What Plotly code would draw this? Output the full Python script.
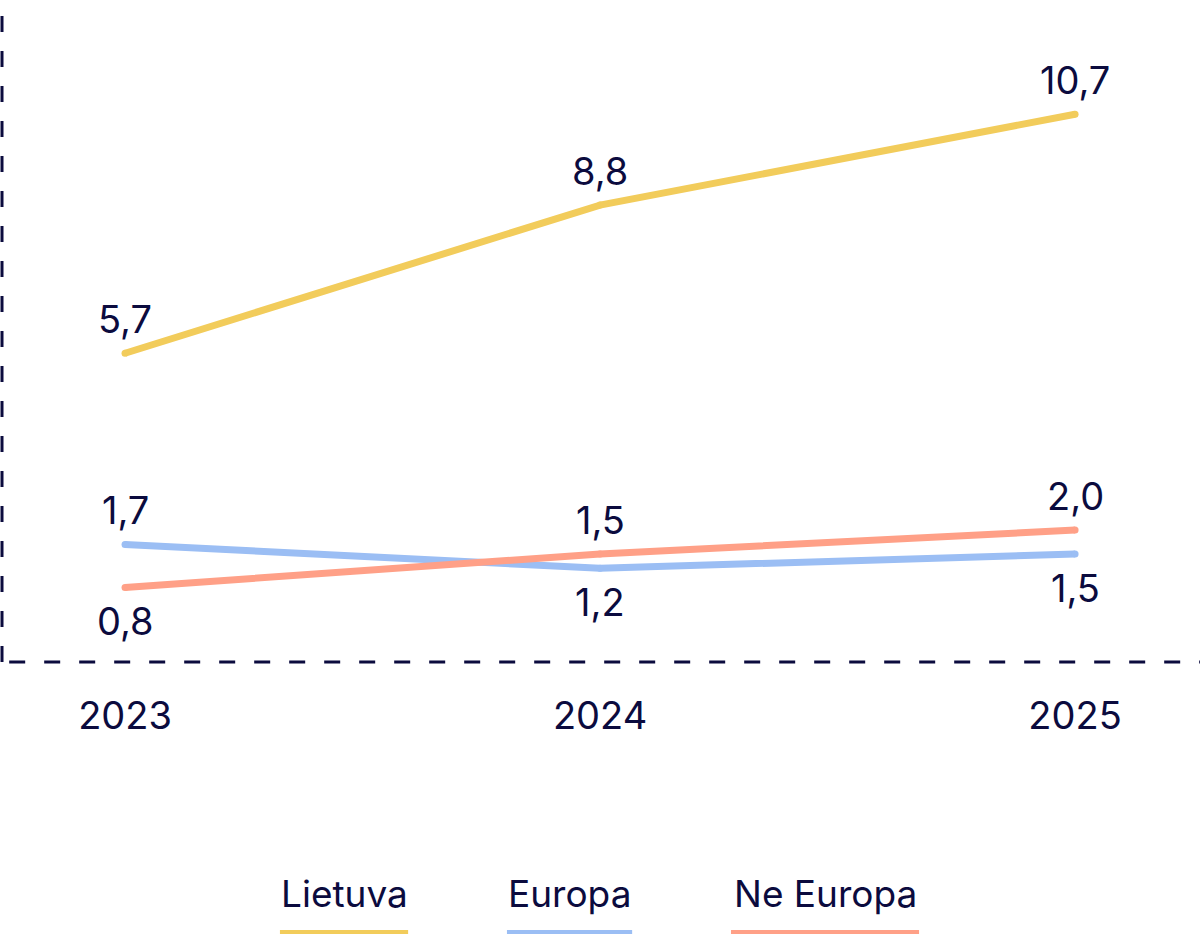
import plotly.graph_objects as go

years = [2023, 2024, 2025]
series_names = ["Lietuva", "Europa", "Ne Europa"]
lietuva = [5.7, 8.8, 10.7]
europa = [1.7, 1.2, 1.5]
ne_europa = [0.8, 1.5, 2.0]
colors = ["#F2CC5B", "#9BBEF4", "#FFA087"]
# which side of the line each value label sits on (1 = above, -1 = below)
label_side = [[1, 1, 1], [1, -1, -1], [-1, 1, 1]]

navy = "#0B0B3E"
font = "Inter"

fig = go.Figure()
all_values = [lietuva, europa, ne_europa]
for name, vals, col, sides in zip(series_names, all_values, colors, label_side):
    fig.add_trace(go.Scatter(
        x=years, y=vals, name=name, mode="lines+markers",
        line=dict(color=col, width=7),
        marker=dict(color=col, size=7),
        showlegend=False, hoverinfo="skip",
    ))
    for x, v, s in zip(years, vals, sides):
        fig.add_annotation(
            x=x, y=v, text=f"{v:.1f}".replace(".", ","), showarrow=False,
            yshift=34 * s, font=dict(family=font, size=38, color=navy),
        )

# dashed axis lines
fig.add_shape(type="line", xref="paper", yref="paper", x0=0, x1=0, y0=0, y1=1,
              line=dict(color=navy, width=3, dash="16px,19px"))
fig.add_shape(type="line", xref="paper", yref="paper", x0=0.006, x1=1, y0=0, y1=0,
              line=dict(color=navy, width=3, dash="16px,19px"))

# custom legend: label with a coloured underline
legend_pos = [(0.2855, 0.232, 0.339), (0.474, 0.4215, 0.526), (0.687, 0.6085, 0.7655)]
for name, col, (xc, x0, x1) in zip(series_names, colors, legend_pos):
    fig.add_annotation(xref="paper", yref="paper", x=xc, y=-0.349, text=name,
                       showarrow=False, xanchor="center", yanchor="middle",
                       font=dict(family=font, size=37, color=navy))
    fig.add_shape(type="line", xref="paper", yref="paper", x0=x0, x1=x1,
                  y0=-0.408, y1=-0.408, line=dict(color=col, width=4))

fig.update_layout(
    width=1200, height=935,
    margin=dict(l=2, r=0, t=0, b=273),
    plot_bgcolor="white", paper_bgcolor="white",
    font=dict(family=font, color=navy),
    xaxis=dict(range=[2022.741, 2025.263], tickvals=years, ticktext=[str(y) for y in years],
               showgrid=False, zeroline=False, showline=False,
               tickfont=dict(family=font, size=38, color=navy), ticklabelstandoff=28),
    yaxis=dict(range=[-0.76, 13.09], showgrid=False, zeroline=False, showline=False,
               showticklabels=False),
)

fig.write_html("out.html", config={"displayModeBar": False},
               post_script="document.body.style.margin='0';")
